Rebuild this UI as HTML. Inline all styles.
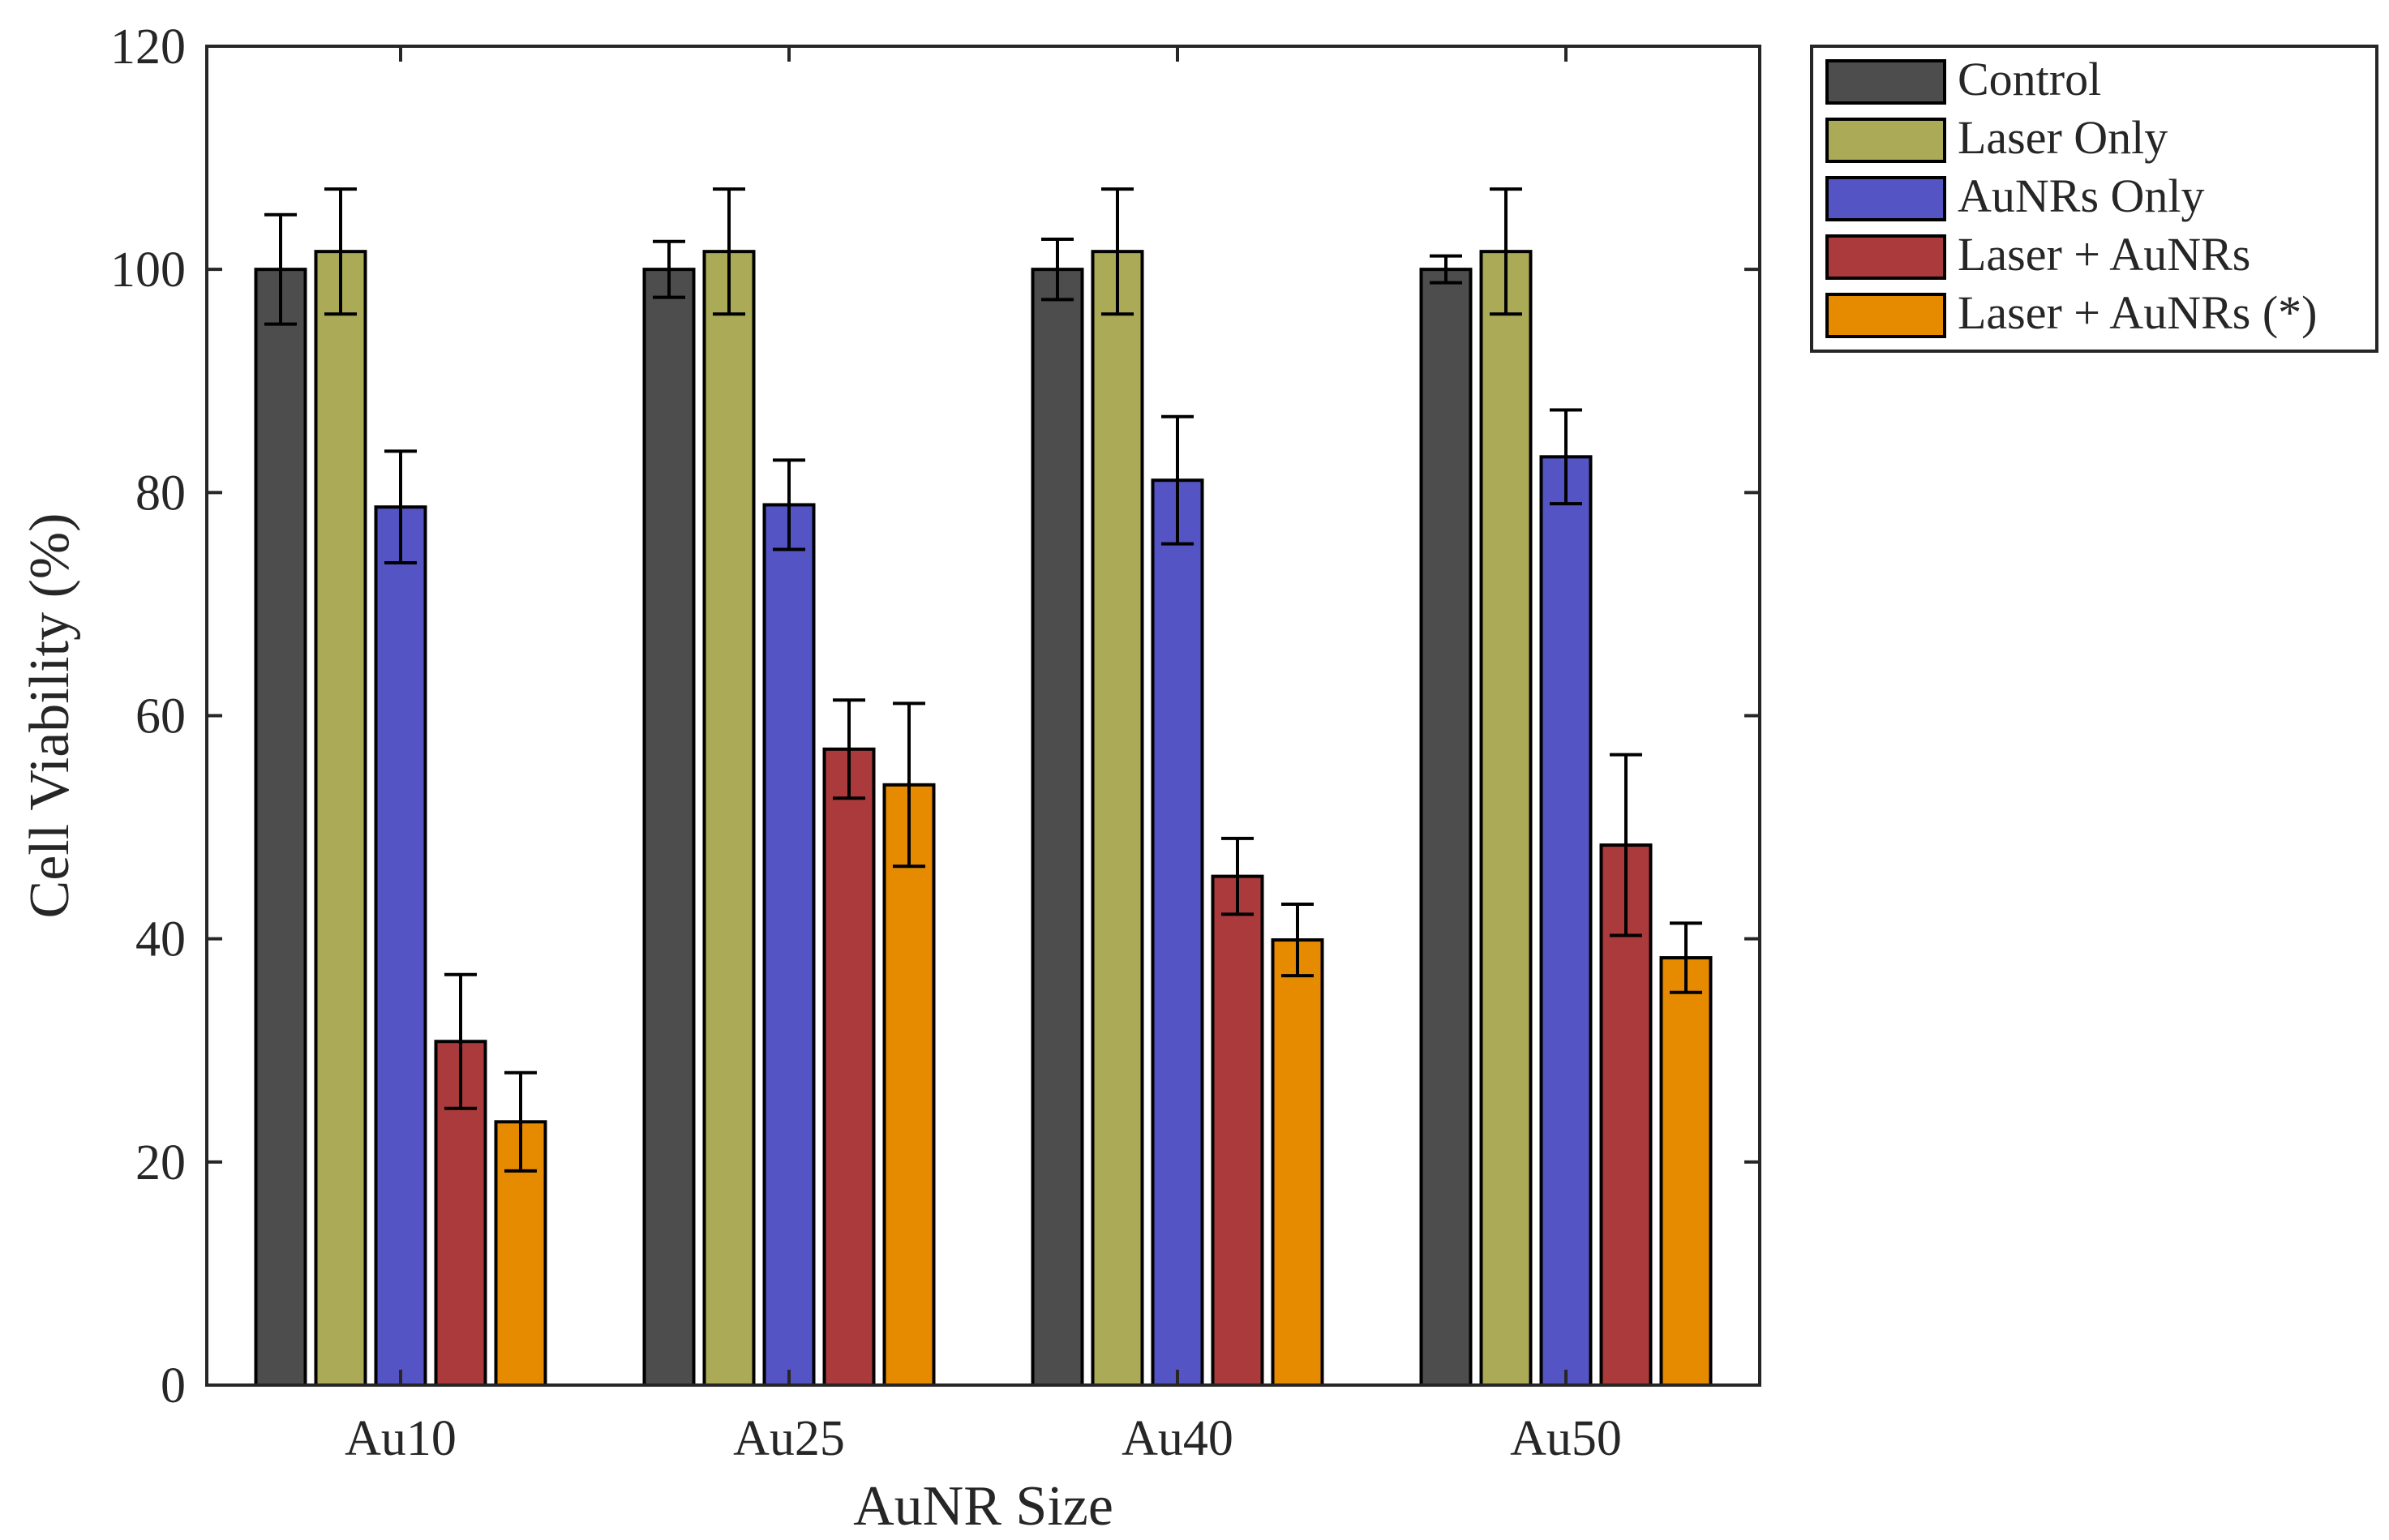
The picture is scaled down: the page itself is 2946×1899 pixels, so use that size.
<!DOCTYPE html>
<html><head><meta charset="utf-8"><style>
html,body{margin:0;padding:0;background:#fff;}
svg{display:block;}
text{font-family:"Liberation Serif",serif;fill:#262626;}
</style></head><body>
<svg id="chart" width="2946" height="1899" viewBox="0 0 2946 1899" xmlns="http://www.w3.org/2000/svg">
<g id="plot"></g>
</svg>
<script>
const categories = ["Au10","Au25","Au40","Au50"];
const seriesNames = ["Control","Laser Only","AuNRs Only","Laser + AuNRs","Laser + AuNRs (*)"];
const seriesColors = ["#4d4d4d","#abab57","#5454c4","#ab3a3c","#e68a00"];
const controlVals = [100,100,100,100];
const laserVals = [101.6,101.6,101.6,101.6];
const aunrVals = [78.7,78.9,81.1,83.2];
const comboVals = [30.8,57.0,45.6,48.4];
const comboStarVals = [23.6,53.8,39.9,38.3];
const controlErr = [4.9,2.5,2.7,1.2];
const laserErr = [5.6,5.6,5.6,5.6];
const aunrErr = [5.0,4.0,5.7,4.2];
const comboErr = [6.0,4.4,3.4,8.1];
const comboStarErr = [4.4,7.3,3.2,3.1];
const yTicks = [0,20,40,60,80,100,120];

const values = [controlVals,laserVals,aunrVals,comboVals,comboStarVals];
const errs = [controlErr,laserErr,aunrErr,comboErr,comboStarErr];
const NS = "http://www.w3.org/2000/svg";
const L=255,R=2170,T=57,B=1708;
const yMax=120;
function y(v){return B-(v/yMax)*(B-T);}
const groupStart=494, groupStep=479;
function xc(i){return groupStart+i*groupStep;}
const barPitch=74, barW=61;
const g=document.getElementById('plot');
function el(tag,attrs,parent){const e=document.createElementNS(NS,tag);for(const k in attrs)e.setAttribute(k,attrs[k]);(parent||g).appendChild(e);return e;}

for(let s=0;s<values.length;s++){
  for(let i=0;i<categories.length;i++){
    const cx=xc(i)+(s-2)*barPitch;
    const v=values[s][i];
    const r=el('rect',{x:cx-barW/2,y:y(v),width:barW,height:B-y(v),fill:seriesColors[s],stroke:'#000','stroke-width':4});
    
    
  }
}
for(let s=0;s<values.length;s++){
  for(let i=0;i<categories.length;i++){
    const cx=xc(i)+(s-2)*barPitch;
    const v=values[s][i], e=errs[s][i];
    const eg=el('g',{stroke:'#000','stroke-width':4});
    
    
    el('line',{x1:cx,x2:cx,y1:y(v+e),y2:y(v-e)},eg);
    el('line',{x1:cx-20,x2:cx+20,y1:y(v+e),y2:y(v+e)},eg);
    el('line',{x1:cx-20,x2:cx+20,y1:y(v-e),y2:y(v-e)},eg);
  }
}
const box=el('rect',{x:L,y:T,width:R-L,height:B-T,fill:'none',stroke:'#262626','stroke-width':4});


yTicks.forEach(t=>{
  const yy=y(t);
  el('line',{x1:L,x2:L+19,y1:yy,y2:yy,stroke:'#262626','stroke-width':4});
  el('line',{x1:R-19,x2:R,y1:yy,y2:yy,stroke:'#262626','stroke-width':4});
  const tx=el('text',{x:229,y:yy+21,'text-anchor':'end','font-size':62});
  tx.textContent=t;
  
  
});
categories.forEach((c,i)=>{
  const xx=xc(i);
  el('line',{x1:xx,x2:xx,y1:B,y2:B-19,stroke:'#262626','stroke-width':4});
  el('line',{x1:xx,x2:xx,y1:T,y2:T+19,stroke:'#262626','stroke-width':4});
  const tx=el('text',{x:xx,y:1794,'text-anchor':'middle','font-size':62});
  tx.textContent=c;
  
  
});
const xl=el('text',{x:(L+R)/2,y:1880,'text-anchor':'middle','font-size':70});
xl.textContent='AuNR Size';


const yl=el('text',{x:0,y:0,'text-anchor':'middle','font-size':70,transform:'translate(84,'+((T+B)/2)+') rotate(-90)'});
yl.textContent='Cell Viability (%)';


const lg=el('g',{});


el('rect',{x:2234,y:57,width:697,height:376,fill:'#fff',stroke:'#262626','stroke-width':4},lg);
seriesNames.forEach((n,s)=>{
  const yy=75+s*72;
  const eg=el('g',{},lg);
  
  
  el('rect',{x:2253,y:yy,width:145,height:52,fill:seriesColors[s],stroke:'#000','stroke-width':4},eg);
  const tx=el('text',{x:2414,y:yy+42,'font-size':58,fill:'#000'},eg);
  tx.textContent=n;
});
</script>
</body></html>
